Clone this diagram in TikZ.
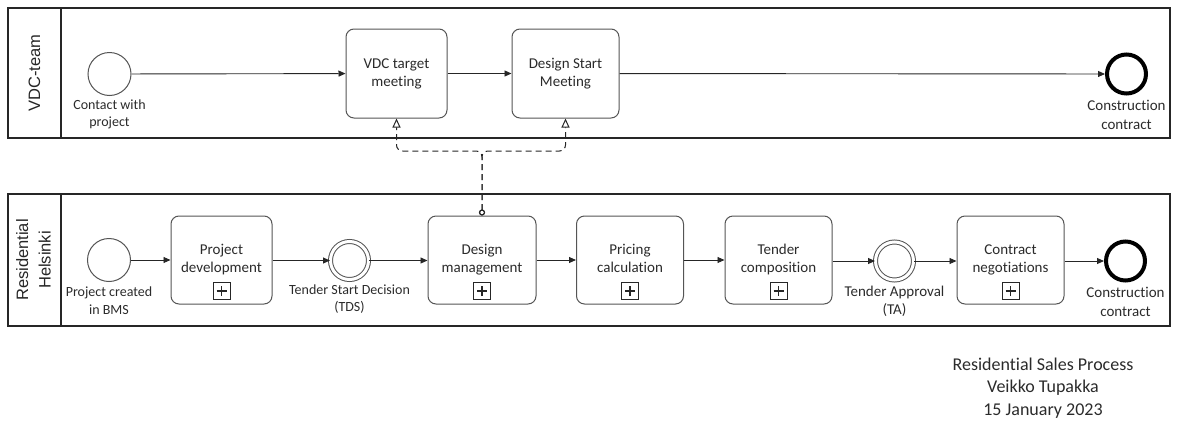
\documentclass[tikz,border=0pt]{standalone}
\usepackage{fontspec}
\setmainfont{Carlito}[Ligatures=NoCommon]
\newfontfamily\lanefont{Liberation Sans}
\usetikzlibrary{arrows.meta,positioning}

\definecolor{ink}{HTML}{262626}
\definecolor{edge}{HTML}{555555}
\definecolor{txt}{HTML}{2B2B2B}

% two struts keep every two-line task label centred the same way
\newcommand\twoline[2]{\strut#1\\\strut#2}

\tikzset{
  poolbox/.style={draw=ink, line width=1.3pt, inner sep=0pt},
  lanelabel/.style={rotate=90, text=ink, align=center,
    font=\lanefont\fontsize{16.5}{22.5}\selectfont},
  task/.style={draw=edge, line width=1pt, rounded corners=8pt, fill=white,
    minimum height=88pt, inner sep=0pt, align=center, text=txt,
    font=\fontsize{15}{18}\selectfont},
  subproc/.style={draw=ink, line width=0.9pt, minimum size=17pt, inner sep=0pt,
    path picture={\draw[ink, line width=1.6pt]
      ([xshift=-5pt]path picture bounding box.center) -- ([xshift=5pt]path picture bounding box.center)
      ([yshift=-5pt]path picture bounding box.center) -- ([yshift=5pt]path picture bounding box.center);}},
  startev/.style={circle, draw=edge, line width=1pt, minimum size=43pt, inner sep=0pt, fill=white},
  midev/.style={circle, draw=edge, double=white, double distance=3pt, line width=1pt,
    minimum size=38pt, inner sep=0pt},
  endev/.style={circle, draw=black, line width=4pt, minimum size=39pt, inner sep=0pt, fill=white},
  evlabel/.style={align=center, text=txt, inner sep=0pt},
  seq/.style={draw=ink, line width=0.9pt, -{Triangle[length=7pt,width=6pt]}},
  msg/.style={draw=ink, line width=1pt, dash pattern=on 6pt off 4pt, rounded corners=6pt,
    {Circle[open,length=6pt,width=6pt]}-{Triangle[open,length=9pt,width=8pt]}},
}

\begin{document}
\begin{tikzpicture}[x=1pt,y=-1pt]
\useasboundingbox (0,0) rectangle (1179,421);

% pools and lane headers
\node[poolbox, minimum width=1162pt, minimum height=130pt] (poolA) at (589,73) {};
\draw[ink, line width=1.3pt] (61,8) -- (61,138);
\node[lanelabel] (laneA) at (34.5,73) {VDC-team};

\node[poolbox, minimum width=1162pt, minimum height=132pt] (poolB) at (589,260) {};
\draw[ink, line width=1.3pt] (61,194) -- (61,326);
\node[lanelabel] (laneB) at (33.5,260) {Residential\\Helsinki};

% VDC-team lane
\node[startev] (s1) at (109.5,74) {};
\node[evlabel, font=\fontsize{14}{17}\selectfont, below=4pt of s1] (s1l) {Contact with\\project};
\node[task, minimum width=101pt, minimum height=89pt] (vdc) at (396.5,73.5) {\twoline{VDC target}{meeting}};
\node[task, minimum width=107pt, minimum height=89pt] (dsm) at (565.5,73.5) {\twoline{Design Start}{Meeting}};
\node[endev] (e1) at (1126.5,74) {};
\node[evlabel, font=\fontsize{15}{19}\selectfont, below=4pt of e1] (e1l) {Construction\\contract};

\draw[seq] (s1) -- (vdc);
\draw[seq] (vdc) -- (dsm);
\draw[seq] (dsm) -- (e1);

% Residential Helsinki lane
\node[startev] (s2) at (109,260) {};
\node[evlabel, font=\fontsize{14}{18}\selectfont, below=5pt of s2] (s2l) {Project created\\in BMS};

\node[task, minimum width=101pt] (pd) at (221.5,260) {\twoline{Project}{development}};
\node[subproc] (pdm) at (221.5,291) {};

\node[midev] (tds) at (349.5,260.5) {};
\node[evlabel, font=\fontsize{14}{17}\selectfont, below=5pt of tds] (tdsl) {Tender Start Decision\\(TDS)};

\node[task, minimum width=108pt] (dm) at (482,260) {\twoline{Design}{management}};
\node[subproc] (dmm) at (482,291) {};

\node[task, minimum width=107pt] (pc) at (630,260) {\twoline{Pricing}{calculation}};
\node[subproc] (pcm) at (630,291) {};

\node[task, minimum width=107pt] (tc) at (778.5,260) {\twoline{Tender}{composition}};
\node[subproc] (tcm) at (778.5,291) {};

\node[midev] (ta) at (894.5,261) {};
\node[evlabel, font=\fontsize{15}{18}\selectfont, below=5pt of ta] (tal) {Tender Approval\\(TA)};

\node[task, minimum width=107pt] (cn) at (1010.5,260) {\twoline{Contract}{negotiations}};
\node[subproc] (cnm) at (1010.5,291) {};

\node[endev] (e2) at (1125.5,261) {};
\node[evlabel, font=\fontsize{15}{19}\selectfont, below=4pt of e2] (e2l) {Construction\\contract};

\draw[seq] (s2) -- (s2 -| pd.west);
\draw[seq] (pd.east |- tds) -- (tds);
\draw[seq] (tds) -- (tds -| dm.west);
\draw[seq] (dm.east |- 0,260) -- (pc.west |- 0,260);
\draw[seq] (pc.east |- 0,260) -- (tc.west |- 0,260);
\draw[seq] (tc.east |- ta) -- (ta);
\draw[seq] (ta) -- (ta -| cn.west);
\draw[seq] (cn.east |- e2) -- (e2);

% message flows from Design management to the VDC meetings
\coordinate (jn) at (482,151);
\draw[msg] (dm.north) -- (jn) -| (vdc.south);
\draw[msg] (dm.north) -- (jn) -| (dsm.south);

% title block
\node[align=center, text=txt, font=\fontsize{18}{22.5}\selectfont] (title) at (1043,388)
  {Residential Sales Process\\Veikko Tupakka\\15 January 2023};
\end{tikzpicture}
\end{document}
